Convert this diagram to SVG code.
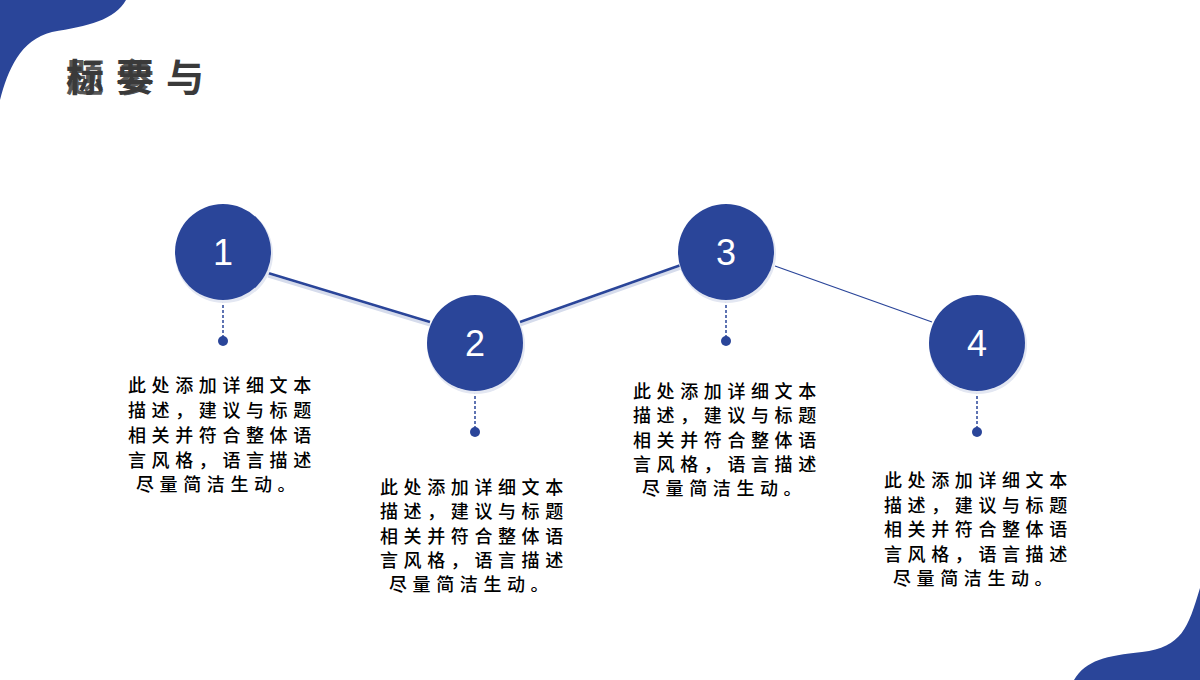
<svg xmlns="http://www.w3.org/2000/svg" width="1200" height="680" viewBox="0 0 1200 680">
<style>
.blob{fill:#2a4599}
.conn{stroke:#2a4599;fill:none}
.sh{stroke:#d6dcec;fill:none}
.dash{stroke:#2a4599;stroke-width:1.5;stroke-dasharray:3,2;fill:none}
.dot{fill:#2a4599}
.circ{fill:#2a4599}
.circsh{fill:#e3e7f2}
.num{fill:#fff;font-family:"Liberation Sans",Arial,sans-serif;font-size:36px;text-anchor:middle}
.desc{fill:#000;font-family:"Noto Sans CJK SC","Noto Sans",sans-serif;font-size:18px;font-weight:500;letter-spacing:5.6px}
.title{fill:#3a3a3a;font-family:"Noto Sans CJK SC",sans-serif;font-size:38px;font-weight:bold}
</style>
<rect width="1200" height="680" fill="#fff"/>
<path class="blob" d="M0,0 H126 C115,20 88,26 52,32 C20,40 8,70 0,100 Z"/>
<path class="blob" d="M1074,680 C1086,660 1106,656 1142,652 C1182,647 1188,628 1200,588 V680 Z"/>
<g id="title">
<text class="title" x="66" y="91" letter-spacing="12">标要与</text>
<text class="title" x="66" y="91" letter-spacing="12" opacity="0.85">题参</text>
</g>
<g id="connectors">
<line class="sh" x1="268" y1="276" x2="430" y2="325" stroke-width="3"/>
<line class="conn" x1="268" y1="273" x2="430" y2="322" stroke-width="2.5"/>
<line class="sh" x1="520" y1="325" x2="681" y2="268" stroke-width="3"/>
<line class="conn" x1="520" y1="322" x2="681" y2="265" stroke-width="2.5"/>
<line class="conn" x1="775" y1="266" x2="932" y2="322" stroke-width="1.3"/>
<line class="dash" x1="223" y1="300" x2="223" y2="338"/>
<line class="dash" x1="475" y1="391" x2="475" y2="429"/>
<line class="dash" x1="726" y1="300" x2="726" y2="338"/>
<line class="dash" x1="977" y1="391" x2="977" y2="429"/>
</g>
<g id="node1">
<circle class="circsh" cx="224" cy="254" r="49"/>
<circle class="circ" cx="223" cy="252" r="48"/>
<text class="num" x="223" y="265">1</text>
<circle class="dot" cx="223" cy="341" r="5"/>
<text class="desc" x="128" y="392">此处添加详细文本</text>
<text class="desc" x="128" y="417">描述，建议与标题</text>
<text class="desc" x="128" y="442">相关并符合整体语</text>
<text class="desc" x="128" y="467">言风格，语言描述</text>
<text class="desc" x="136" y="491">尽量简洁生动。</text>
</g>
<g id="node2">
<circle class="circsh" cx="476" cy="345" r="49"/>
<circle class="circ" cx="475" cy="343" r="48"/>
<text class="num" x="475" y="356">2</text>
<circle class="dot" cx="475" cy="432" r="5"/>
<text class="desc" x="380" y="494">此处添加详细文本</text>
<text class="desc" x="380" y="518">描述，建议与标题</text>
<text class="desc" x="380" y="543">相关并符合整体语</text>
<text class="desc" x="380" y="567">言风格，语言描述</text>
<text class="desc" x="389" y="591">尽量简洁生动。</text>
</g>
<g id="node3">
<circle class="circsh" cx="727" cy="254" r="49"/>
<circle class="circ" cx="726" cy="252" r="48"/>
<text class="num" x="726" y="265">3</text>
<circle class="dot" cx="726" cy="341" r="5"/>
<text class="desc" x="633" y="398">此处添加详细文本</text>
<text class="desc" x="633" y="422">描述，建议与标题</text>
<text class="desc" x="633" y="447">相关并符合整体语</text>
<text class="desc" x="633" y="471">言风格，语言描述</text>
<text class="desc" x="642" y="495">尽量简洁生动。</text>
</g>
<g id="node4">
<circle class="circsh" cx="978" cy="345" r="49"/>
<circle class="circ" cx="977" cy="343" r="48"/>
<text class="num" x="977" y="356">4</text>
<circle class="dot" cx="977" cy="432" r="5"/>
<text class="desc" x="884" y="487">此处添加详细文本</text>
<text class="desc" x="884" y="512">描述，建议与标题</text>
<text class="desc" x="884" y="536">相关并符合整体语</text>
<text class="desc" x="884" y="561">言风格，语言描述</text>
<text class="desc" x="893" y="585">尽量简洁生动。</text>
</g>
</svg>
